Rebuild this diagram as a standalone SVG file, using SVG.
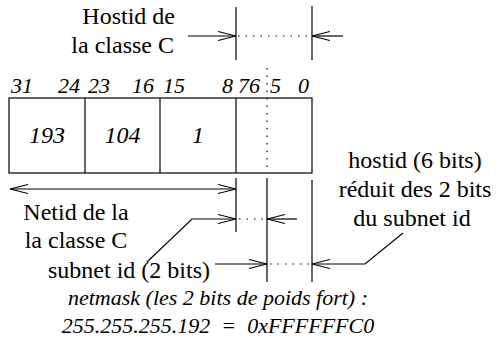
<svg xmlns="http://www.w3.org/2000/svg" width="496" height="346" viewBox="0 0 496 346">
<defs>
<marker id="ah" viewBox="0 0 18 10" refX="18" refY="5" markerWidth="18" markerHeight="10" markerUnits="userSpaceOnUse" orient="auto-start-reverse">
<path d="M0,0.5 L18,5 L0,9.5" fill="none" stroke="#000" stroke-width="1.1"/>
</marker>
</defs>
<style>
text{font-family:'Liberation Serif','Tinos','DejaVu Serif','Noto Serif',serif;fill:#000}
.t{font-size:24px}
.n{font-size:22px;font-style:italic}
.b{font-size:24px;font-style:italic}
.m{font-size:22px;font-style:italic}
.s{stroke:#000;stroke-width:1.2;fill:none}
.dot{stroke-dasharray:1.5 6}
.arr{marker-end:url(#ah)}
.arr2{marker-start:url(#ah);marker-end:url(#ah)}
</style>
<rect width="496" height="346" fill="#fff"/>

<g id="hostid-label">
<text class="t" x="175" y="24" text-anchor="end">Hostid de</text>
<text class="t" x="174" y="53" text-anchor="end">la classe C</text>
</g>

<g id="bit-numbers">
<text class="n" x="11" y="93">31</text>
<text class="n" x="80" y="93" text-anchor="end">24</text>
<text class="n" x="88" y="93">23</text>
<text class="n" x="154" y="93" text-anchor="end">16</text>
<text class="n" x="163" y="93">15</text>
<text class="n" x="233" y="93" text-anchor="end">8</text>
<text class="n" x="238" y="93">76</text>
<text class="n" x="270" y="93">5</text>
<text class="n" x="298" y="93">0</text>
</g>

<g id="address-box">
<rect class="s" x="9" y="98" width="303" height="75"/>
<line class="s" x1="85" y1="98" x2="85" y2="173"/>
<line class="s" x1="160" y1="98" x2="160" y2="173"/>
<line class="s" x1="236" y1="98" x2="236" y2="173"/>
<text class="b" x="47" y="143" text-anchor="middle">193</text>
<text class="b" x="122.5" y="143" text-anchor="middle">104</text>
<text class="b" x="198" y="143" text-anchor="middle">1</text>
</g>

<g id="netid-label">
<text class="t" x="76" y="220" text-anchor="middle">Netid de la</text>
<text class="t" x="76" y="248" text-anchor="middle">la classe C</text>
</g>

<g id="subnet-label">
<text class="t" x="48" y="278">subnet id (2 bits)</text>
</g>

<g id="hostid6-label">
<text class="t" x="415" y="168" text-anchor="middle">hostid (6 bits)</text>
<text class="t" x="415" y="197" text-anchor="middle">réduit des 2 bits</text>
<text class="t" x="412" y="226" text-anchor="middle">du subnet id</text>
</g>

<g id="netmask-label">
<text class="m" x="218" y="305" text-anchor="middle">netmask (les 2 bits de poids fort) :</text>
<text class="m" x="218" y="333" text-anchor="middle" xml:space="preserve">255.255.255.192  =  0xFFFFFFC0</text>
</g>

<g id="connectors">
<line class="s" x1="236" y1="7" x2="236" y2="60"/>
<line class="s" x1="312" y1="6" x2="312" y2="60"/>
<line class="s dot" x1="238" y1="36" x2="311" y2="36"/>
<line class="s arr" x1="188" y1="36" x2="236" y2="36"/>
<line class="s arr" x1="343" y1="36" x2="312" y2="36"/>

<line class="s dot" x1="267" y1="68" x2="267" y2="173"/>

<line class="s arr2" x1="10" y1="189" x2="236" y2="189"/>
<line class="s" x1="236" y1="178" x2="236" y2="232"/>
<line class="s" x1="267" y1="178" x2="267" y2="282"/>
<line class="s" x1="312" y1="180" x2="312" y2="282"/>

<polyline class="s arr" points="147,262 192,219 236,219"/>
<line class="s dot" x1="239" y1="219" x2="266" y2="219"/>
<line class="s arr" x1="297" y1="219" x2="267" y2="219"/>

<line class="s arr" x1="215" y1="264" x2="267" y2="264"/>
<line class="s dot" x1="270" y1="264" x2="311" y2="264"/>
<polyline class="s arr" points="403,233 365,264 312,264"/>
</g>
</svg>
